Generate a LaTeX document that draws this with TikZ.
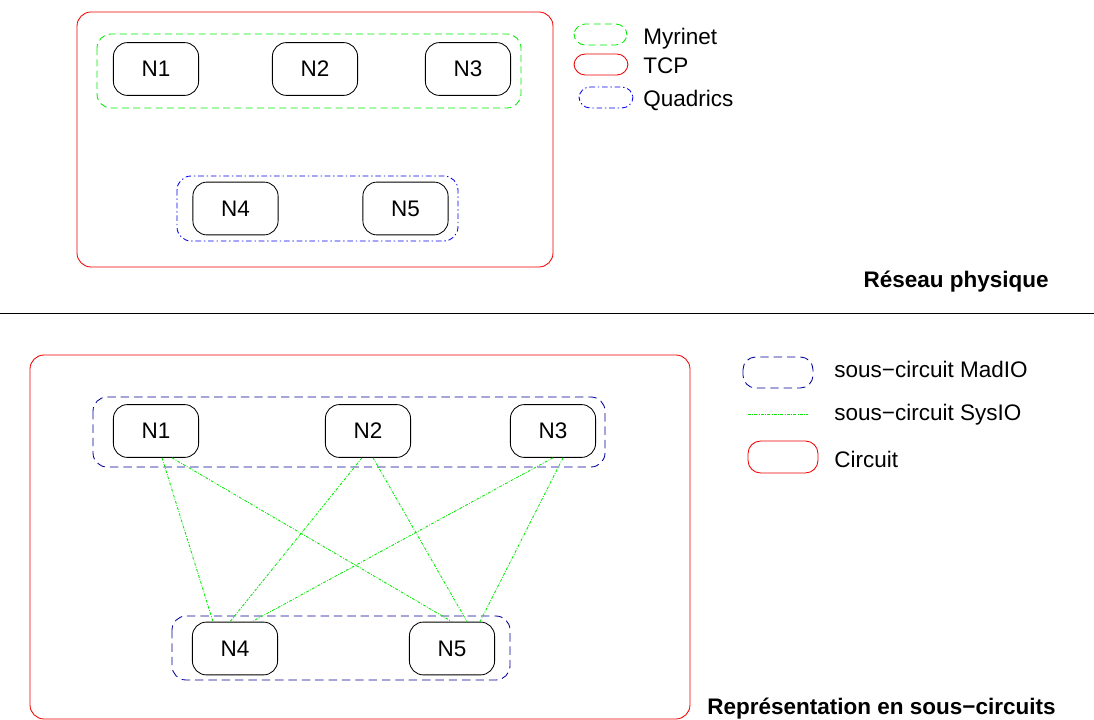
\documentclass[tikz,border=0pt]{standalone}
\usepackage{fontspec}
\setmainfont{Liberation Sans}
\usepackage{tikz}

\definecolor{myrinetgreen}{RGB}{0,235,0}
\definecolor{tcpred}{RGB}{240,0,0}
\definecolor{quadblue}{RGB}{0,0,240}
\definecolor{madioblue}{RGB}{0,0,150}

\tikzset{
	machine/.style={draw, rounded corners=10pt, minimum width=2.13cm, minimum height=1.32cm, inner sep=0pt},
	myrinet/.style={draw=myrinetgreen, dash pattern=on 5pt off 3pt, rounded corners=10pt},
	tcp/.style={draw=tcpred, rounded corners=10pt},
	quadrics/.style={draw=quadblue, dash pattern=on 4pt off 2pt on 1pt off 2pt, rounded corners=10pt},
	madio/.style={draw=madioblue, dash pattern=on 6pt off 3.5pt, rounded corners=10pt},
	sysio/.style={draw=myrinetgreen, dash pattern=on 2pt off 1pt on 0.6pt off 1pt},
	legend/.style={anchor=base west, inner sep=0pt},
	titre/.style={inner sep=0pt, font=\fontsize{16}{19}\selectfont\bfseries}
}

\begin{document}
\begin{tikzpicture}[x=0.025cm, y=-0.025cm, line width=0.6pt, font=\fontsize{16}{19}\selectfont]
	\useasboundingbox (0,0) rectangle (1094,720);

	% reseau physique
	\draw[tcp] (77,12) rectangle (553,267);			% TCP
	\draw[myrinet] (97,34) rectangle (521,108);		% Myrinet
	\draw[quadrics] (177,176) rectangle (458,241);	% Quadrics

	\node[machine] (pn1) at (156,69) {N1};
	\node[machine] (pn2) at (315,69) {N2};
	\node[machine] (pn3) at (468,69) {N3};
	\node[machine] (pn4) at (235.5,208.5) {N4};
	\node[machine] (pn5) at (405.5,208.5) {N5};

	% legende reseau physique
	\draw[myrinet, rounded corners=8pt] (574,24) rectangle (627,45);
	\node[legend] (lmyri) at (643,45) {Myrinet};
	\draw[tcp, rounded corners=8pt] (574,54) rectangle (628,75);
	\node[legend] (ltcp) at (643,74) {TCP};
	\draw[quadrics, rounded corners=8pt] (579,87) rectangle (633,108);
	\node[legend] (lquad) at (643,107) {Quadrics};

	\node[titre, anchor=base east] (tphys) at (1049,288) {Réseau physique};

	\draw (0,313) -- (1094,313);	% separation

	% representation en sous-circuits
	\draw[tcp] (30,355) rectangle (690,719);		% circuit
	\draw[madio] (93,397) rectangle (605,467);
	\draw[madio] (172,616) rectangle (510,680);

	\node[machine] (cn1) at (156,431) {N1};
	\node[machine] (cn2) at (368,431) {N2};
	\node[machine] (cn3) at (553,431) {N3};
	\node[machine] (cn4) at (235,648.5) {N4};
	\node[machine] (cn5) at (452,648.5) {N5};

	% liens SysIO
	\draw[sysio] ([xshift=0.15cm]cn1.south) -- ([xshift=-0.55cm]cn4.north);
	\draw[sysio] ([xshift=0.4cm]cn1.south) -- ([xshift=0cm]cn5.north);
	\draw[sysio] ([xshift=-0.15cm]cn2.south) -- ([xshift=-0.125cm]cn4.north);
	\draw[sysio] ([xshift=0.125cm]cn2.south) -- ([xshift=0.375cm]cn5.north);
	\draw[sysio] ([xshift=0cm]cn3.south) -- ([xshift=0.425cm]cn4.north);
	\draw[sysio] ([xshift=0.25cm]cn3.south) -- ([xshift=0.7cm]cn5.north);

	% legende sous-circuits
	\draw[madio, rounded corners=9pt] (743,357) rectangle (813,388);
	\node[legend] (lmadio) at (834,378) {sous−circuit MadIO};
	\coordinate (sysa) at (748,414);
	\coordinate (sysb) at (808,414);
	\draw[sysio] (sysa) -- (sysb);
	\node[legend] (lsysio) at (834,421) {sous−circuit SysIO};
	\draw[tcp, rounded corners=9pt] (748,441) rectangle (818,473);
	\node[legend] (lcirc) at (834,468) {Circuit};

	\node[titre, anchor=base west] (trep) at (707,715) {Représentation en sous−circuits};
\end{tikzpicture}
\end{document}
